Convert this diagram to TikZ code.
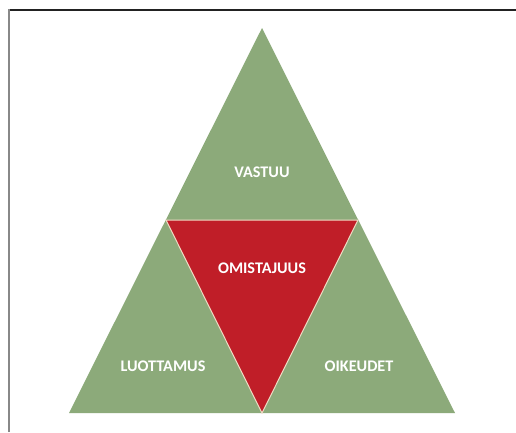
\documentclass[tikz,border=0pt]{standalone}
\usepackage{fontspec}
\setmainfont{Carlito}
\definecolor{leaf}{HTML}{8CAA7A}
\definecolor{core}{HTML}{C01E28}
\definecolor{seam}{HTML}{F0DCC4}
\definecolor{framedark}{HTML}{222222}
\definecolor{framegray}{HTML}{888888}
\tikzset{
  piece/.style={fill=leaf, draw=none},
  corepiece/.style={fill=core, draw=seam, line width=1pt, line join=miter},
  lbl/.style={text=white, font=\bfseries\fontsize{16.2}{19}\selectfont, inner sep=0pt}
}
\begin{document}
\begin{tikzpicture}[x=1pt,y=-1pt]
\useasboundingbox (0,0) rectangle (516,432);
\fill[white] (0,0) rectangle (516,432);
% frame
\coordinate (ftl) at (9,10);
\coordinate (ftr) at (516,10);
\coordinate (fbl) at (9,432);
\draw[framedark, line width=1.2pt] (ftl) -- (ftr);
\draw[framegray, line width=2pt] (fbl) -- (ftl |- 0,9.4);
% triangle corners
\coordinate (apex) at (262,28);
\coordinate (bl) at (69,413);
\coordinate (br) at (455,413);
\coordinate (ml) at (166,220);
\coordinate (mr) at (358,220);
\coordinate (bm) at (262,413);
% pieces
\fill[piece] (apex) -- (br) -- (bl) -- cycle;
\draw[corepiece] (ml) -- (mr) -- (bm) -- cycle;
% labels
\node[lbl] (vastuu) at (262,172) {VASTUU};
\node[lbl] (omistajuus) at (262,268) {OMISTAJUUS};
\node[lbl] (luottamus) at (163,366) {LUOTTAMUS};
\node[lbl] (oikeudet) at (359,366) {OIKEUDET};
\end{tikzpicture}
\end{document}
